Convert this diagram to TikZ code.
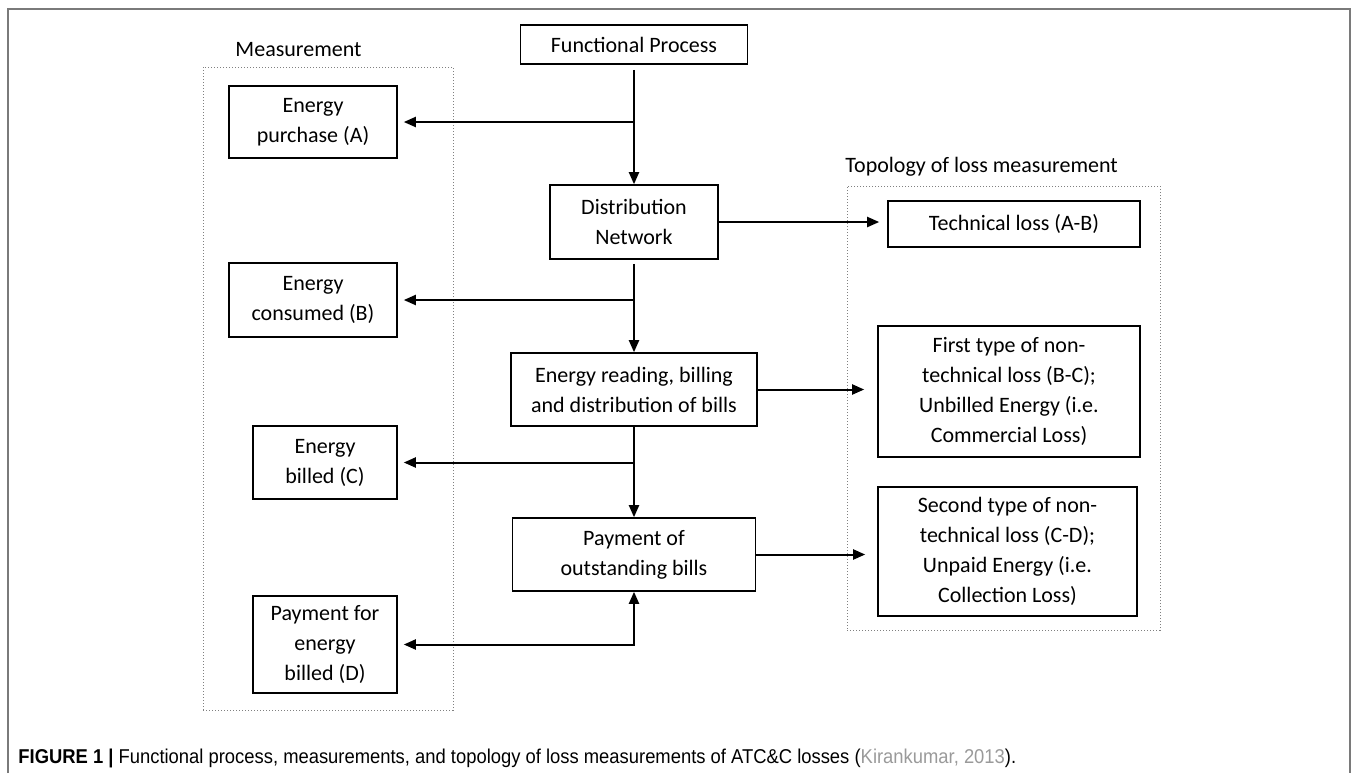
\documentclass[tikz,border=0pt]{standalone}
\usepackage{fontspec}
\setmainfont{Carlito}
\newfontfamily\capfont[FakeStretch=0.92]{Liberation Sans}
\usetikzlibrary{arrows.meta}
\definecolor{framegray}{HTML}{7A7A7A}
\definecolor{citegray}{HTML}{9A9A9A}
\tikzset{procbox/.style={draw, line width=0.8pt, align=center, inner sep=0pt,
                         font=\fontsize{11}{15}\selectfont},
         boxsize/.style 2 args={minimum width=#1*0.5pt, minimum height=#2*0.5pt},
         groupbox/.style={draw=gray, densely dotted, line width=0.5pt, inner sep=0pt},
         grouplabel/.style={inner sep=0pt, font=\fontsize{11}{15}\selectfont},
         flow/.style={line width=1pt, -{Triangle[length=6pt,width=5pt]}},
         biflow/.style={line width=1pt, {Triangle[length=6pt,width=5pt]}-{Triangle[length=6pt,width=5pt]}}}

\begin{document}
\begin{tikzpicture}[x=0.5pt, y=-0.5pt]

    \useasboundingbox (0,0) rectangle (1356,773);
    \draw[framegray, line width=0.8pt] (8,773) -- (8,9) -- (1350,9) -- (1350,773);

    % groups
    \node[groupbox, boxsize={250}{643}] (meas) at (328,388.5) {};
    \node[grouplabel] (measlbl) at (298.5,50) {Measurement};
    \node[groupbox, boxsize={313}{444}] (topo) at (1003.5,408) {};
    \node[grouplabel, anchor=west] (topolbl) at (845,167) {Topology of loss measurement};

    % functional process
    \node[procbox, boxsize={227}{39}] (fp) at (634,44.5) {Functional Process};
    \node[procbox, boxsize={168}{74}] (dn) at (634,222) {Distribution\\Network};
    \node[procbox, boxsize={246}{73}] (er) at (634,389.5) {Energy reading, billing\\and distribution of bills};
    \node[procbox, boxsize={243}{73}] (pay) at (634,554.5) {Payment of\\outstanding bills};

    % measurement
    \node[procbox, boxsize={168}{72}] (ea) at (313,122) {Energy\\purchase (A)};
    \node[procbox, boxsize={168}{74}] (eb) at (313,300) {Energy\\consumed (B)};
    \node[procbox, boxsize={144}{73}] (ec) at (325,462.5) {Energy\\billed (C)};
    \node[procbox, boxsize={144}{97}] (ed) at (325,644.5) {Payment for\\energy\\billed (D)};

    % losses
    \node[procbox, boxsize={252}{46}] (tl) at (1014,224) {Technical loss (A-B)};
    \node[procbox, boxsize={262}{131}] (l1) at (1009,391.5) {First type of non-\\technical loss (B-C);\\Unbilled Energy (i.e.\\Commercial Loss)};
    \node[procbox, boxsize={259}{129}] (l2) at (1007.5,551.5) {Second type of non-\\technical loss (C-D);\\Unpaid Energy (i.e.\\Collection Loss)};

    \draw[flow, shorten <=2.5pt] (fp) -- (dn);
    \draw[flow, shorten <=2pt] (dn) -- (er);
    \draw[flow] (er) -- (pay);
    \draw[flow, shorten >=3pt] (dn.north |- ea) -- (ea);
    \draw[flow, shorten >=3pt] (er.north |- eb) -- (eb);
    \draw[flow, shorten >=3pt] (pay.north |- ec) -- (ec);
    \draw[biflow, shorten >=3pt] (pay.south) |- (ed);
    \draw[flow, shorten >=4pt] (dn.east) -- (dn.east -| tl.west);
    \draw[flow, shorten >=6.5pt] (er.east) -- (er.east -| l1.west);
    \draw[flow, shorten >=6pt] (pay.east) -- (pay.east -| l2.west);

    \node[anchor=base west, inner sep=0pt] (cap) at (18,763)
        {\capfont\fontsize{10}{12}\selectfont\textbf{FIGURE 1 |} Functional process, measurements, and topology of loss measurements of ATC\&C losses (\textcolor{citegray}{Kirankumar, 2013}).};

\end{tikzpicture}
\end{document}
